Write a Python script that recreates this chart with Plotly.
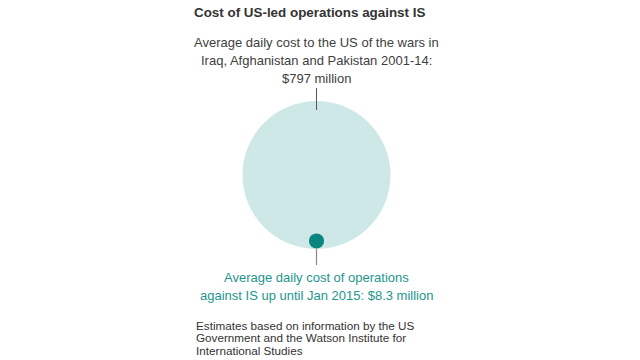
import plotly.graph_objects as go

# Data
labels = ["Wars in Iraq, Afghanistan and Pakistan 2001-14", "Operations against IS up until Jan 2015"]
values_musd = [797, 8.3]  # average daily cost, $ million
colors = ["#cde8e6", "#0b8580"]

title = "Cost of US-led operations against IS"
top_lines = ["Average daily cost to the US of the wars in",
             "Iraq, Afghanistan and Pakistan 2001-14:",
             "$797 million"]
bottom_lines = ["Average daily cost of operations",
                "against IS up until Jan 2015: $8.3 million"]
note_lines = ["Estimates based on information by the US",
              "Government and the Watson Institute for",
              "International Studies"]

W, H = 640, 360
big_diam = 148.0
# plotly area sizemode: rendered diameter = sqrt(2 * v / sizeref)
sizeref = 2 * values_musd[0] / big_diam ** 2
diams = [(2 * v / sizeref) ** 0.5 for v in values_musd]
cx = 316.5
big_cy = 175.0
small_cy = big_cy + diams[0] / 2 - diams[1] / 2 - 0.5
ys = [big_cy, small_cy]

fig = go.Figure()

fig.add_trace(go.Scatter(x=[cx, cx], y=[small_cy, 265], mode="lines",
                         line=dict(color="#888888", width=1.2), hoverinfo="skip", showlegend=False))

fig.add_trace(go.Scatter(
    x=[cx, cx], y=ys, mode="markers", text=labels,
    marker=dict(size=values_musd, sizemode="area", sizeref=sizeref, sizemin=1,
                color=colors, line=dict(width=0), opacity=1),
    hovertemplate="%{text}: $%{marker.size} million<extra></extra>", showlegend=False))

fig.add_trace(go.Scatter(x=[cx, cx], y=[88, big_cy - diams[0] / 2 + 9], mode="lines",
                         line=dict(color="#555555", width=1), hoverinfo="skip", showlegend=False))

font_family = "Arial, 'Liberation Sans', sans-serif"
ann = []
ann.append(dict(x=192, y=12, text="<b>" + title + "</b>", xanchor="left", yanchor="middle",
                font=dict(size=13.4, color="#333333", family=font_family)))
for i, t in enumerate(top_lines):
    ann.append(dict(x=cx, y=42 + 18 * i, text=t, xanchor="center", yanchor="middle",
                    font=dict(size=13, color="#404040", family=font_family)))
for i, t in enumerate(bottom_lines):
    ann.append(dict(x=cx, y=277 + 18 * i, text=t, xanchor="center", yanchor="middle",
                    font=dict(size=13, color="#1c968d", family=font_family)))
for i, t in enumerate(note_lines):
    ann.append(dict(x=194, y=325.5 + 12.3 * i, text=t, xanchor="left", yanchor="middle",
                    font=dict(size=11.7, color="#333333", family=font_family)))
for a in ann:
    a.update(xref="x", yref="y", showarrow=False)

fig.update_layout(
    width=W, height=H, margin=dict(l=0, r=0, t=0, b=0),
    paper_bgcolor="white", plot_bgcolor="white",
    xaxis=dict(range=[0, W], visible=False, fixedrange=True),
    yaxis=dict(range=[H, 0], visible=False, fixedrange=True),
    annotations=ann,
)

fig.write_html("out.html", config={"displayModeBar": False},
               post_script="document.body.style.margin='0';")
